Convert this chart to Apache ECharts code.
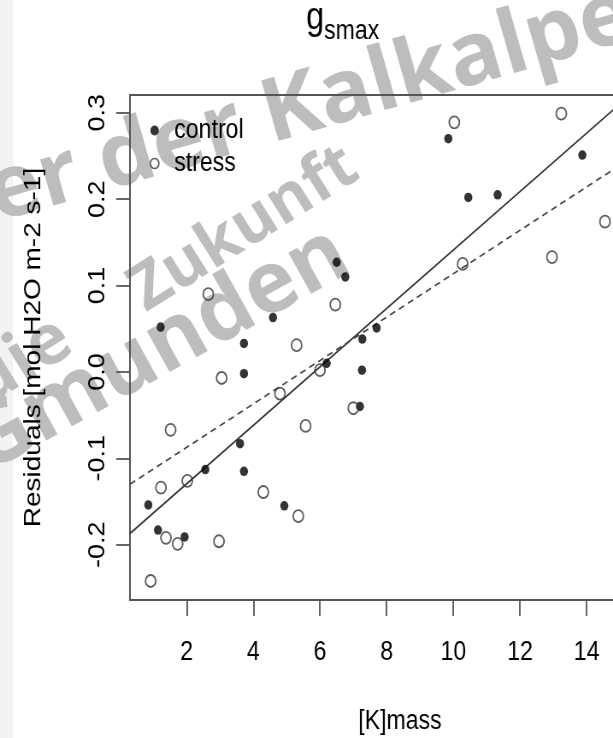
<!DOCTYPE html>
<html>
<head>
<meta charset="utf-8">
<script src="https://cdn.jsdelivr.net/npm/echarts@6/dist/echarts.min.js"></script>
<style>
html,body{margin:0;padding:0;background:#fff;overflow:hidden;width:613px;height:738px;}
#chart{width:717px;height:738px;transform:scaleX(0.855);transform-origin:0 0;}
</style>
</head>
<body>
<div id="chart"></div>
<script>
// ---- data ----
const controlPoints = [
  [0.85,-0.154],[1.14,-0.183],[1.22,0.052],[1.94,-0.191],[2.56,-0.113],[3.60,-0.083],
  [3.72,-0.115],[3.72,-0.002],[3.72,0.033],[4.59,0.063],[4.93,-0.155],[6.20,0.010],
  [6.50,0.127],[6.76,0.110],[7.20,-0.040],[7.26,0.002],[7.27,0.038],[7.70,0.051],
  [9.85,0.270],[10.45,0.202],[11.33,0.205],[13.87,0.251]
];
const stressPoints = [
  [0.92,-0.242],[1.23,-0.134],[1.38,-0.192],[1.52,-0.067],[1.73,-0.199],[2.02,-0.126],
  [2.65,0.090],[2.97,-0.196],[3.05,-0.007],[4.30,-0.139],[4.80,-0.025],[5.30,0.031],
  [5.35,-0.167],[5.57,-0.0625],[6.00,0.002],[6.46,0.078],[7.00,-0.042],[10.03,0.289],
  [10.28,0.125],[12.96,0.133],[13.24,0.299],[14.55,0.174]
];
// fitted lines (end points)
const controlFit = [[0.3,-0.187],[16.5,0.361]];
const stressFit = [[0.3,-0.130],[16.5,0.277]];
const xTicks = [2,4,6,8,10,12,14,16];
const yTicks = [-0.2,-0.1,0.0,0.1,0.2,0.3];
const titleMain = 'g';
const titleSub = 'smax';
const xName = '[K]mass';
const yName = 'Residuals [mol H2O m-2 s-1]';
const watermark = ['er der Kalkalpen', 'die', 'Zukunft', 'Gmunden'];

const SQ = 0.855;
const REG = "'Liberation Sans',Arial,sans-serif";
const WMF = "'Open Sans',sans-serif";
const WMC = '#bdbdbd';
const AX = '#555';

function wm(text, x, y, rot, size) {
  return {type:'text', z:-10, x:x, y:y, rotation:rot,
    style:{text:text, fill:WMC, font:'bold '+size+'px '+WMF, textAlign:'left', textVerticalAlign:'bottom'}};
}

const chart = echarts.init(document.getElementById('chart'), null, {renderer:'canvas'});
chart.setOption({
  backgroundColor: '#fff',
  animation: false,
  graphic: [
    {type:'group', x:0, y:0, scaleX:1/SQ, z:-10, children:[
      {type:'rect', z:-20, shape:{x:0,y:0,width:13,height:738}, style:{fill:'#f3f3f3'}},
      wm(watermark[0], 2, 240, 0.28, 88),
      wm(watermark[1], -6, 420, 0.56, 70),
      wm(watermark[2], 153, 324, 0.56, 64),
      wm(watermark[3], -5, 490, 0.506, 86)
    ]},
    {type:'text', z:10, x:358, y:19,
      style:{text:titleMain, fill:'#000', font:"38px "+REG, textAlign:'left', textVerticalAlign:'middle'}},
    {type:'text', z:10, x:379, y:32,
      style:{text:titleSub, fill:'#000', font:"27px "+REG, textAlign:'left', textVerticalAlign:'middle'}}
  ],
  legend: {
    orient:'vertical', left:170, top:112, itemGap:6,
    itemWidth:10, itemHeight:10,
    textStyle:{fontFamily:REG, fontSize:27, color:'#000', padding:[0,0,0,13]},
    data:[
      {name:'control', icon:'circle', itemStyle:{color:'#000', borderWidth:0}},
      {name:'stress', icon:'circle', itemStyle:{color:'transparent', borderColor:'#333', borderWidth:1.7}}
    ]
  },
  grid: {left:152, top:95, width:631.6, height:505, show:true, borderColor:AX, borderWidth:1.8,
    backgroundColor:'transparent', outerBoundsMode:'none', containLabel:false},
  xAxis: {
    type:'value', min:0.3, max:16.5,
    name:xName, nameLocation:'middle', nameGap:108,
    nameTextStyle:{fontFamily:REG, fontSize:27, color:'#000'},
    axisLine:{show:true, onZero:false, lineStyle:{color:AX, width:1.8}},
    axisTick:{show:true, length:16, lineStyle:{color:AX, width:1.8}, customValues:xTicks},
    axisLabel:{customValues:xTicks, margin:39, fontFamily:REG, fontSize:27, color:'#000',
      formatter:function(v){return String(Math.round(v));}},
    splitLine:{show:false}
  },
  yAxis: {
    type:'value', min:-0.264, max:0.3206,
    name:yName, nameLocation:'middle', nameGap:99,
    nameTextStyle:{fontFamily:REG, fontSize:28, color:'#000'},
    axisLine:{show:true, onZero:false, lineStyle:{color:AX, width:2}},
    axisTick:{show:true, length:16, lineStyle:{color:AX, width:1.8}, customValues:yTicks},
    axisLabel:{customValues:yTicks, rotate:90, margin:24, fontFamily:REG, fontSize:27, color:'#000',
      formatter:function(v){return v.toFixed(1);}},
    splitLine:{show:false}
  },
  series: [
    {name:'control', type:'scatter', data:controlPoints, symbol:'circle', symbolSize:9.5,
      itemStyle:{color:'#000'}, z:5},
    {name:'stress', type:'scatter', data:stressPoints, symbol:'circle', symbolSize:12,
      itemStyle:{color:'transparent', borderColor:'#333', borderWidth:1.8}, z:5},
    {name:'controlFit', type:'line', data:controlFit, symbol:'none', clip:true,
      lineStyle:{color:'#333', width:1.7, type:'solid'}, z:4},
    {name:'stressFit', type:'line', data:stressFit, symbol:'none', clip:true,
      lineStyle:{color:'#444', width:1.7, type:[7,5]}, z:4}
  ]
});
</script>
</body>
</html>
